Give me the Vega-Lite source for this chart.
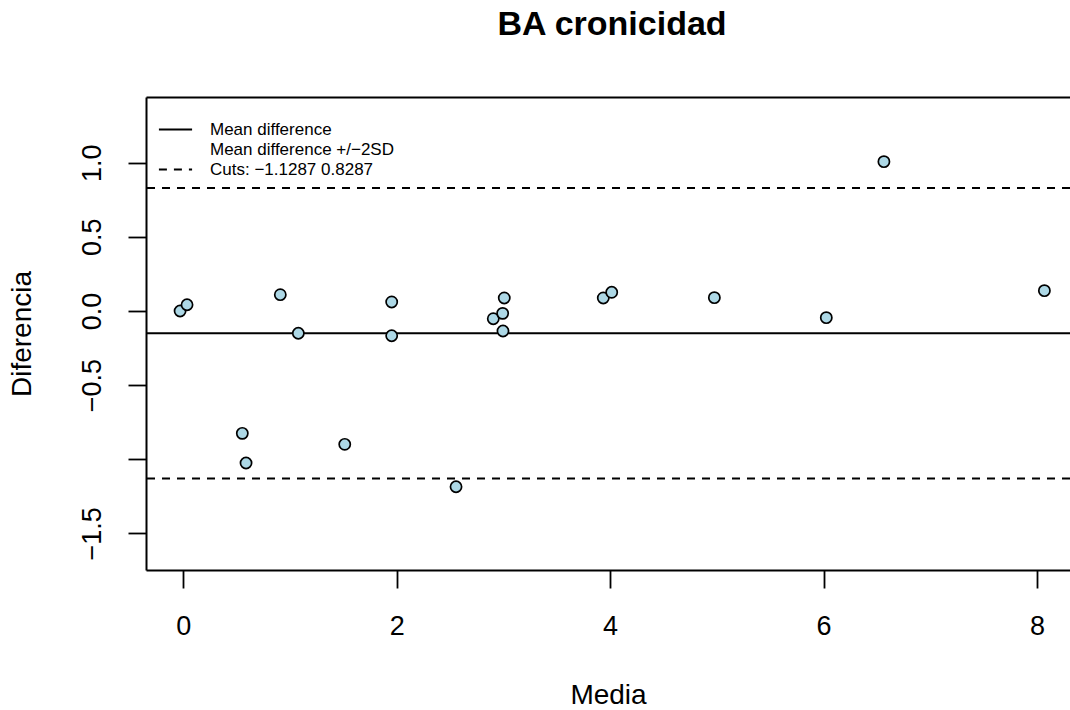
{
  "$schema": "https://vega.github.io/schema/vega-lite/v6.json",
  "width": 924,
  "height": 473,
  "autosize": {"type": "none"},
  "padding": {"left": 146, "top": 97, "right": 0, "bottom": 140},
  "background": "white",
  "config": {
    "view": {"stroke": null},
    "font": "Liberation Sans",
    "axis": {
      "domainColor": "black", "domainWidth": 2,
      "tickColor": "black", "tickWidth": 1.8, "tickSize": 18,
      "labelColor": "black", "labelFont": "Liberation Sans", "labelFontSize": 27,
      "titleColor": "black", "titleFont": "Liberation Sans", "titleFontSize": 28, "titleFontWeight": "normal",
      "grid": false
    }
  },
  "title": {
    "text": "BA cronicidad", "font": "Liberation Sans", "fontSize": 34, "fontWeight": "bold",
    "color": "black", "anchor": "middle", "frame": "group", "baseline": "alphabetic", "offset": 28, "dx": 4
  },
  "datasets": {
    "pts": [
      {"media": -0.03, "diferencia": 0.0},
      {"media": 0.035, "diferencia": 0.042},
      {"media": 0.909, "diferencia": 0.11},
      {"media": 1.078, "diferencia": -0.15},
      {"media": 0.553, "diferencia": -0.825},
      {"media": 0.588, "diferencia": -1.025},
      {"media": 1.513, "diferencia": -0.899},
      {"media": 1.953, "diferencia": 0.061},
      {"media": 1.953, "diferencia": -0.167},
      {"media": 2.556, "diferencia": -1.185},
      {"media": 2.905, "diferencia": -0.052},
      {"media": 2.993, "diferencia": -0.016},
      {"media": 3.008, "diferencia": 0.088},
      {"media": 2.996, "diferencia": -0.135},
      {"media": 3.936, "diferencia": 0.088},
      {"media": 4.015, "diferencia": 0.126},
      {"media": 4.977, "diferencia": 0.09},
      {"media": 6.026, "diferencia": -0.045},
      {"media": 6.566, "diferencia": 1.007},
      {"media": 8.07, "diferencia": 0.137}
    ],
    "lines": [
      {"valor": -0.15, "linea": "Mean difference"},
      {"valor": 0.8287, "linea": "Cuts: −1.1287 0.8287"},
      {"valor": -1.1287, "linea": "Cuts: −1.1287 0.8287"}
    ]
  },
  "resolve": {"axis": {"x": "independent"}},
  "layer": [
    {
      "data": {"name": "lines"},
      "mark": {"type": "rule", "color": "black", "strokeWidth": 2},
      "encoding": {
        "y": {"field": "valor", "type": "quantitative"},
        "strokeDash": {
          "field": "linea", "type": "nominal",
          "scale": {"domain": ["Mean difference", "Mean difference +/−2SD", "Cuts: −1.1287 0.8287"], "range": [[1, 0], [0, 100], [8, 7]]},
          "legend": {
            "title": null, "orient": "none", "legendX": 21, "legendY": 24, "padding": 0,
            "symbolType": "M-5,0H5", "symbolSize": 44, "symbolStrokeWidth": 2, "symbolStrokeColor": "black",
            "symbolFillColor": "transparent",
            "labelFont": "Liberation Sans", "labelFontSize": 17, "labelColor": "black", "labelOffset": 26,
            "labelLimit": 400, "rowPadding": 2
          }
        }
      }
    },
    {
      "data": {"name": "pts"},
      "mark": {"type": "point", "shape": "circle", "filled": true, "fill": "#add8e6", "stroke": "black", "strokeWidth": 1.7, "size": 125, "opacity": 1},
      "encoding": {
        "x": {
          "field": "media", "type": "quantitative",
          "scale": {"domain": [-0.3496, 8.31], "nice": false, "zero": false},
          "axis": {"orient": "bottom", "title": "Media", "values": [0, 2, 4, 6, 8], "format": "d", "labelPadding": 25, "titlePadding": 42, "labelFlush": false, "labelOverlap": false}
        },
        "y": {
          "field": "diferencia", "type": "quantitative",
          "scale": {"domain": [-1.7465, 1.443], "nice": false, "zero": false},
          "axis": {
            "title": "Diferencia", "values": [-1.5, -1, -0.5, 0, 0.5, 1], "labelAngle": -90,
            "labelAlign": "center", "labelBaseline": "bottom", "labelPadding": 22, "titlePadding": 42,
            "labelFlush": false, "labelOverlap": false,
            "labelExpr": "datum.value == -1 ? '' : replace(format(datum.value, '.1f'), '-', '−')"
          }
        }
      }
    },
    {
      "data": {"name": "pts"},
      "mark": {"type": "point", "opacity": 0},
      "encoding": {
        "x": {
          "field": "media", "type": "quantitative",
          "axis": {"orient": "top", "title": null, "labels": false, "ticks": false, "domain": true}
        },
        "y": {"field": "diferencia", "type": "quantitative"}
      }
    }
  ]
}
